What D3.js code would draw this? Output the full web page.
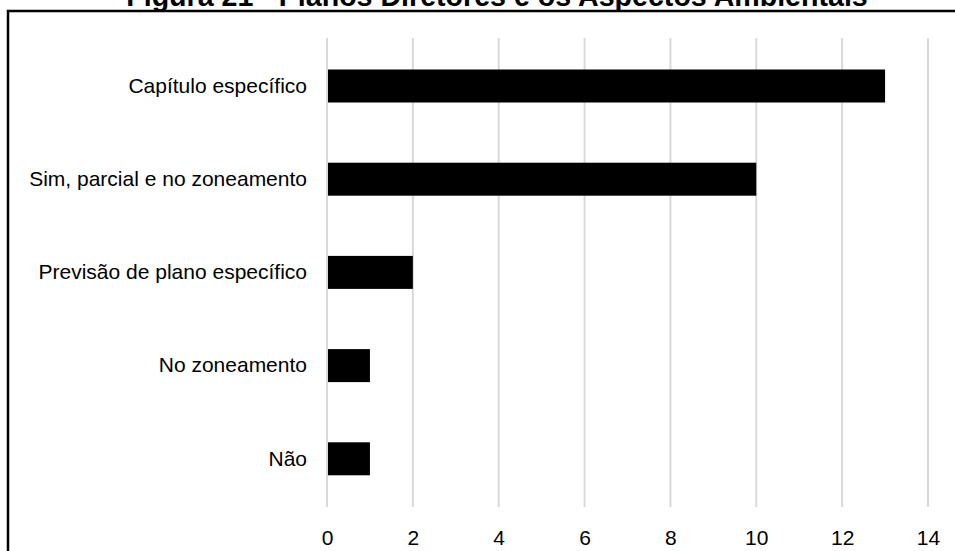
<!DOCTYPE html>
<html>
<head>
<meta charset="utf-8">
<script src="https://cdn.jsdelivr.net/npm/d3@7"></script>
<style>
  html, body { margin: 0; padding: 0; background: #fff; }
  svg { display: block; font-family: "Liberation Sans", Arial, sans-serif; }
</style>
</head>
<body>
<svg id="chart" width="955" height="551"></svg>
<script>
// Planos Diretores: treatment of environmental aspects
const categories = [
  "Capítulo específico",
  "Sim, parcial e no zoneamento",
  "Previsão de plano específico",
  "No zoneamento",
  "Não"
];
const counts = [13, 10, 2, 1, 1];
const tickValues = [0, 2, 4, 6, 8, 10, 12, 14];
const titleText = "Figura 21 - Planos Diretores e os Aspectos Ambientais";

const svg = d3.select("#chart");

// outer frame of the figure (runs past the right and bottom edges)
svg.append("rect")
  .attr("x", 8).attr("y", 11)
  .attr("width", 1000).attr("height", 600)
  .attr("fill", "#fff")
  .attr("stroke", "#000")
  .attr("stroke-width", 2.5);

// title, partly above the visible area
svg.append("text")
  .attr("x", 497).attr("y", 6)
  .attr("text-anchor", "middle")
  .attr("font-weight", "bold")
  .attr("font-size", 28.6)
  .text(titleText);

const x = d3.scaleLinear().domain([0, 14]).range([327, 928]);
const y = d3.scaleBand().domain(categories).range([39.4, 505.4])
  .paddingInner(0.646).paddingOuter(0.323);

// vertical gridlines
svg.append("g")
  .selectAll("line")
  .data(tickValues)
  .join("line")
  .attr("x1", d => x(d)).attr("x2", d => x(d))
  .attr("y1", 38).attr("y2", 507)
  .attr("stroke", "#d9d9d9")
  .attr("stroke-width", 2);

// bars
svg.append("g")
  .selectAll("rect")
  .data(categories)
  .join("rect")
  .attr("x", x(0) + 1)
  .attr("y", d => y(d))
  .attr("width", (d, i) => x(counts[i]) - x(0) - 1)
  .attr("height", y.bandwidth())
  .attr("fill", "#000");

// category labels
const yAxis = d3.axisLeft(y).tickSize(0).tickPadding(20);
svg.append("g")
  .attr("transform", `translate(${x(0)},0)`)
  .call(yAxis)
  .call(g => g.select(".domain").remove())
  .call(g => g.selectAll("text")
    .attr("font-size", 21)
    .attr("font-family", "Liberation Sans, Arial, sans-serif")
    .attr("fill", "#000"));

// value axis labels
const xAxis = d3.axisBottom(x).tickValues(tickValues).tickSize(0).tickPadding(0);
svg.append("g")
  .attr("transform", `translate(0,${530})`)
  .call(xAxis)
  .call(g => g.select(".domain").remove())
  .call(g => g.selectAll("text")
    .attr("dy", "0.71em")
    .attr("font-size", 21)
    .attr("font-family", "Liberation Sans, Arial, sans-serif")
    .attr("fill", "#000"));
</script>
</body>
</html>
